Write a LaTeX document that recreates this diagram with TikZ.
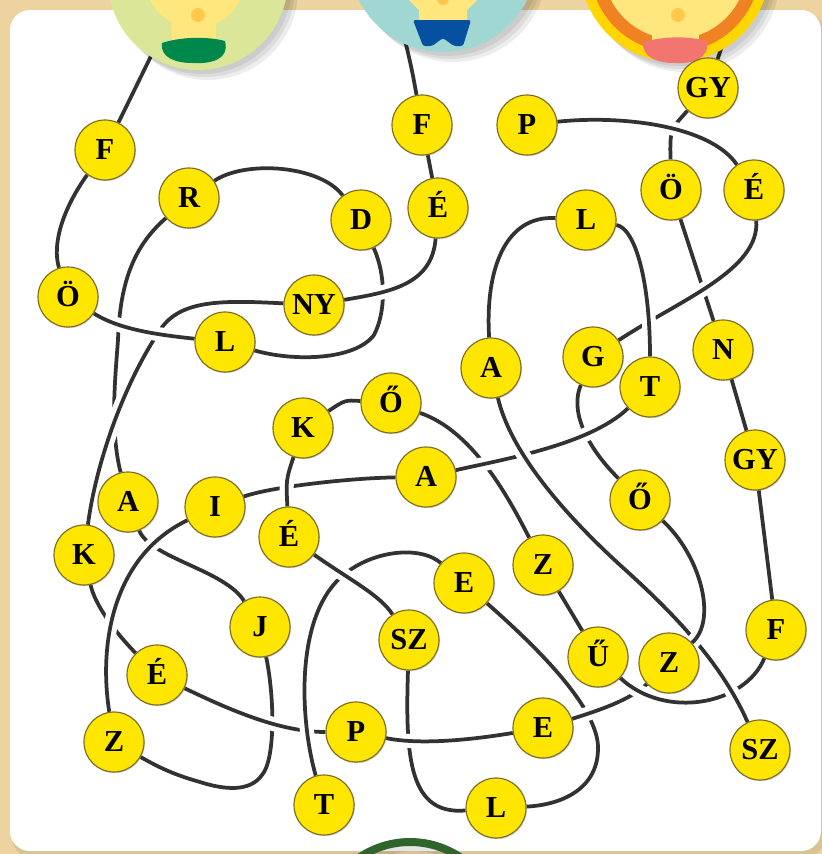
\documentclass[tikz,border=0pt]{standalone}
\usepackage{fontspec}
\setmainfont{Liberation Serif}
\usetikzlibrary{shadows}
\pgfdeclarelayer{bg}
\pgfdeclarelayer{trails}
\pgfsetlayers{bg,trails,main}

\definecolor{frametan}{RGB}{236,211,160}
\definecolor{trailgray}{RGB}{50,50,50}
\definecolor{bulbyellow}{RGB}{255,230,0}
\definecolor{rimolive}{RGB}{125,110,35}
\definecolor{headgreen}{RGB}{220,230,152}
\definecolor{headteal}{RGB}{160,215,210}
\definecolor{headyellow}{RGB}{255,214,0}
\definecolor{ringorange}{RGB}{240,130,35}
\definecolor{lampyellow}{RGB}{255,230,125}
\definecolor{dotorange}{RGB}{255,200,75}
\definecolor{collargreen}{RGB}{0,135,75}
\definecolor{pantsblue}{RGB}{5,80,160}
\definecolor{mouthpink}{RGB}{242,117,112}
\definecolor{leafgreen}{RGB}{48,100,45}

\begin{document}
\begin{tikzpicture}[x=0.03cm,y=-0.03cm,line join=round]
\tikzset{letter/.style={circle,minimum size=1.8cm,inner sep=0pt,fill=bulbyellow,draw=rimolive,line width=1pt,
    text height=17pt,text depth=0pt,font=\fontsize{26}{26}\selectfont\bfseries,
    drop shadow={shadow xshift=0.8pt,shadow yshift=-1pt,opacity=0.3}},
  trail/.style={draw=trailgray,line width=3.2pt,preaction={draw=white,line width=12pt}},
  headshadow/.style={fill=black,opacity=0.07}}
\useasboundingbox (0,0) rectangle (822,854);
\begin{pgfonlayer}{bg}
  \fill[frametan] (0,0) rectangle (822,854);
  \fill[black,opacity=0.08,rounded corners=0.6cm] (12,13) rectangle (825,857);
  \fill[white,rounded corners=0.6cm] (10,10) rectangle (821,851);
\end{pgfonlayer}
\clip (0,0) rectangle (822,854);

% heads
\foreach \s in {4,7,10} {
  \fill[headshadow] (198+\s,-20+\s) circle (90);
  \fill[headshadow] (443+\s,-42+\s) circle (94);
  \fill[headshadow] (675+\s,-33+\s) circle (95);
}
\fill[headgreen] (198,-20) circle (90);
\fill[lampyellow] (195,-22) circle (50);
\fill[lampyellow] (172,-5) rectangle (216,44);
\fill[dotorange] (198,15) circle (7);
\fill[collargreen] (162,43) .. controls (180,37) and (206,36) .. (225,41) .. controls (230,60) and (210,64) .. (193,63) .. controls (176,63) and (160,58) .. cycle;

\fill[headteal] (443,-42) circle (94);
\fill[lampyellow] (403,-6) -- (483,-6) -- (467,10) -- (467,24) -- (419,24) -- (419,10) -- cycle;
\fill[dotorange] (443,-1) circle (6);
\fill[pantsblue,rounded corners=2pt] (413,20) -- (471,20) -- (463,46) -- (454,46) -- (443,38) -- (432,46) -- (423,46) -- cycle;

\fill[headyellow] (675,-33) circle (95);
\fill[ringorange] (675,-33) circle (85);
\fill[lampyellow] (675,-33) circle (72);
\fill[lampyellow] (652,0) rectangle (699,44);
\fill[dotorange] (678,15) circle (7);
\fill[mouthpink] (643,42) .. controls (665,36) and (688,36) .. (707,41) .. controls (710,60) and (690,64) .. (675,63) .. controls (658,63) and (642,58) .. cycle;

\draw[black,opacity=0.1,line width=9pt] (414,936) circle (90);
\draw[leafgreen,line width=6.8pt] (410,932) circle (90);

\coordinate (tailG) at (153,52);
\coordinate (tailT) at (405,40);
\coordinate (tailO) at (728,28);

\node[letter] (f1) at (105,150) {F};
\node[letter] (r1) at (189,198) {R};
\node[letter] (d1) at (361,220) {D};
\node[letter] (f2) at (422,125) {F};
\node[letter] (ee1) at (438,208) {É};
\node[letter] (p2) at (527,125) {P};
\node[letter] (gy1) at (708,88) {GY};
\node[letter] (oe2) at (671,190) {Ö};
\node[letter] (ee3) at (754,190) {É};
\node[letter] (l2) at (586,220) {L};
\node[letter] (oe1) at (68,297) {Ö};
\node[letter] (ny1) at (314,305) {NY};
\node[letter] (l1) at (225,342) {L};
\node[letter] (a3) at (491,368) {A};
\node[letter] (g1) at (593,357) {G};
\node[letter] (t1) at (650,387) {T};
\node[letter] (n1) at (723,350) {N};
\node[letter] (k2) at (303,428) {K};
\node[letter] (ooo2) at (391,403) {Ő};
\node[letter] (a2) at (426,477) {A};
\node[letter] (gy2) at (755,460) {GY};
\node[letter] (ooo1) at (640,500) {Ő};
\node[letter] (a1) at (128,502) {A};
\node[letter] (i1) at (215,507) {I};
\node[letter] (ee4) at (289,537) {É};
\node[letter] (k1) at (84,555) {K};
\node[letter] (z3) at (543,565) {Z};
\node[letter] (e2) at (464,583) {E};
\node[letter] (j1) at (260,627) {J};
\node[letter] (sz2) at (409,640) {SZ};
\node[letter] (uu1) at (598,657) {Ű};
\node[letter] (z2) at (669,663) {Z};
\node[letter] (f3) at (776,630) {F};
\node[letter] (ee2) at (157,675) {É};
\node[letter] (z1) at (114,742) {Z};
\node[letter] (p1) at (356,732) {P};
\node[letter] (e1) at (543,728) {E};
\node[letter] (sz1) at (760,750) {SZ};
\node[letter] (t2) at (324,805) {T};
\node[letter] (l3) at (496,808) {L};

\begin{pgfonlayer}{trails}
  % plain links first, the crossing ones after in stacking order
  \draw[trail] (tailG) -- (f1);
  \draw[trail] (f1) .. controls (62,210) and (52,245) .. (oe1);
  \draw[trail] (d1) .. controls (320,165) and (245,160) .. (r1);
  \draw[trail] (l2) .. controls (505,215) and (485,270) .. (a3);
  \draw[trail] (tailT) .. controls (412,70) .. (f2);
  \draw[trail] (f2) -- (ee1);
  \draw[trail] (tailO) -- (gy1);
  \draw[trail] (n1) -- (gy2);
  \draw[trail] (gy2) -- (f3);
  \draw[trail] (z3) -- (uu1);
  \draw[trail] (ooo2) .. controls (345,400) .. (k2);

  \draw[trail] (l1) .. controls (295,362) and (355,360) .. (374,335) .. controls (386,312) and (386,275) .. (d1);
  \draw[trail] (r1) .. controls (135,245) and (120,280) .. (118,340) .. controls (115,380) and (110,430) .. (a1);
  \draw[trail] (ny1) .. controls (220,300) and (180,300) .. (160,330) .. controls (120,390) and (95,470) .. (k1);
  \draw[trail] (oe1) .. controls (120,330) and (160,335) .. (l1);
  \draw[trail] (ee1) .. controls (432,285) and (390,292) .. (ny1);
  \draw[trail] (k1) .. controls (95,605) and (115,632) .. (ee2);
  \draw[trail] (a1) .. controls (150,558) and (225,570) .. (j1);
  \draw[trail] (z1) .. controls (98,640) and (115,555) .. (i1);
  \draw[trail] (j1) .. controls (275,700) and (275,760) .. (262,775) .. controls (250,792) and (225,790) .. (200,782) .. controls (175,775) and (160,768) .. (z1);
  \draw[trail] (ee2) .. controls (230,710) and (280,732) .. (p1);
  \draw[trail] (e2) .. controls (420,545) and (370,550) .. (340,578) .. controls (295,620) and (300,720) .. (t2);
  \draw[trail] (ee4) .. controls (350,580) and (380,595) .. (sz2);
  \draw[trail] (i1) .. controls (270,487) and (350,478) .. (a2);
  \draw[trail] (k2) .. controls (286,480) .. (ee4);
  \draw[trail] (z3) .. controls (505,490) and (470,430) .. (ooo2);
  \draw[trail] (g1) .. controls (570,410) and (585,445) .. (ooo1);
  \draw[trail] (a2) .. controls (500,460) and (590,445) .. (t1);
  \draw[trail] (oe2) -- (n1);
  \draw[trail] (g1) .. controls (680,300) and (760,270) .. (ee3);
  \draw[trail] (l2) .. controls (635,228) and (650,280) .. (t1);
  \draw[trail] (gy1) .. controls (670,130) .. (oe2);
  \draw[trail] (p2) .. controls (620,115) and (710,125) .. (ee3);
  \draw[trail] (sz2) .. controls (405,760) and (410,815) .. (l3);
  \draw[trail] (p1) .. controls (420,745) and (470,740) .. (e1);
  \draw[trail] (e2) .. controls (540,650) and (600,710) .. (598,750) .. controls (597,790) and (560,805) .. (l3);
  \draw[trail] (e1) .. controls (600,710) and (630,700) .. (z2);
  \draw[trail] (f3) .. controls (745,705) and (665,720) .. (uu1);
  \draw[trail] (a3) .. controls (510,450) and (560,510) .. (620,565) .. controls (670,610) and (720,660) .. (sz1);
  \draw[trail] (ooo1) .. controls (700,555) and (718,620) .. (z2);
\end{pgfonlayer}
\end{tikzpicture}
\end{document}
